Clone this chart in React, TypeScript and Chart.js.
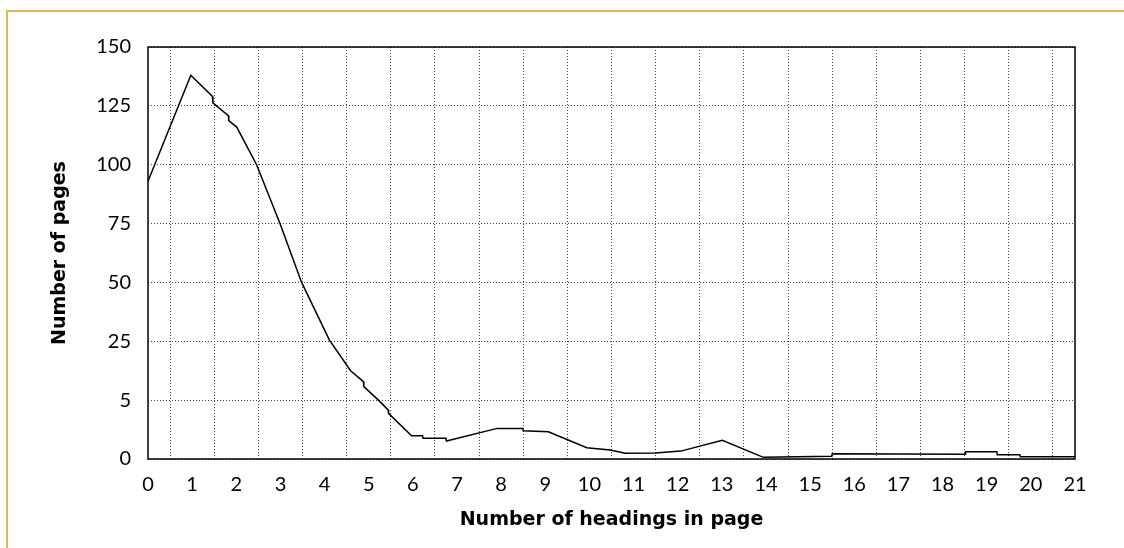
import { useEffect, useRef } from "react";
import { Chart, registerables } from "chart.js";

Chart.register(...registerables);

// Number of headings in page (x) and number of pages (y)
const headings = [
  0, 0.97, 1.46, 1.47, 1.82, 1.83, 2.01, 2.46, 2.99, 3.48, 4.11, 4.59, 4.88, 4.89,
  5.22, 5.44, 5.45, 5.97, 6.22, 6.23, 6.75, 6.76, 7.91, 8.49, 8.5, 9.07, 9.94,
  10.47, 10.81, 11.49, 12.07, 13.01, 13.94, 15.49, 15.5, 18.51, 18.52, 19.23,
  19.24, 19.75, 19.76, 21,
];
const pages = [
  93, 138, 129, 126.3, 120.8, 118.7, 116, 100, 75, 50, 25.5, 15, 11.3, 9.6,
  5, 4.17, 3.88, 1.98, 1.98, 1.76, 1.76, 1.53, 2.6, 2.6, 2.4, 2.32, 0.96,
  0.76, 0.48, 0.5, 0.67, 1.59, 0.14, 0.23, 0.45, 0.4, 0.62, 0.62,
  0.37, 0.37, 0.2, 0.2,
];
const yTickValues = [0, 5, 25, 50, 75, 100, 125, 150];
const xMin = 0;
const xMax = 21;
const xTitle = "Number of headings in page";
const yTitle = "Number of pages";

// piecewise mapping of a value onto the evenly spaced tick bands
function toBand(v: number): number {
  for (let i = 1; i < yTickValues.length; i++) {
    const a = yTickValues[i - 1];
    const b = yTickValues[i];
    if (v <= b) return i - 1 + (v - a) / (b - a);
  }
  return yTickValues.length - 1;
}

const TICK_FONT = { family: "Lato", size: 20 };
const TITLE_FONT = { family: "'DejaVu Sans'", size: 19, weight: "bold" as const };

const framePlugin = {
  id: "frame",
  beforeDraw(chart: any) {
    const ctx = chart.ctx;
    ctx.save();
    ctx.fillStyle = "#e0b85c";
    ctx.fillRect(6, 10, 2, chart.height - 10);
    ctx.fillRect(6, 10, chart.width - 6, 2);
    ctx.restore();
  },
  afterDraw(chart: any) {
    const { left, top, right, bottom } = chart.chartArea;
    const ctx = chart.ctx;
    ctx.save();
    ctx.strokeStyle = "#000";
    ctx.lineWidth = 1.5;
    ctx.strokeRect(left, top, right - left, bottom - top);
    ctx.restore();
  },
};

export default function App() {
  const ref = useRef<HTMLCanvasElement | null>(null);

  useEffect(() => {
    if (!ref.current) return;
    const data = headings.map((x, i) => ({ x, y: toBand(pages[i]) }));
    const chart = new Chart(ref.current, {
      type: "line",
      data: {
        datasets: [
          {
            data,
            borderColor: "#000",
            borderWidth: 1.5,
            pointRadius: 0,
            tension: 0,
            fill: false,
          },
        ],
      },
      options: {
        animation: false,
        responsive: false,
        events: [],
        layout: { padding: { left: 0, top: 47, right: 49, bottom: 0 } },
        plugins: { legend: { display: false }, tooltip: { enabled: false } },
        scales: {
          x: {
            type: "linear",
            min: xMin,
            max: xMax,
            ticks: {
              stepSize: 1,
              autoSkip: false,
              maxRotation: 0,
              padding: 14,
              color: "#000",
              font: TICK_FONT,
            },
            grid: { offset: true, color: "#444", lineWidth: 1, drawTicks: false },
            border: { display: false, dash: [1, 2] },
            title: {
              display: true,
              text: xTitle,
              color: "#000",
              font: TITLE_FONT,
              padding: { top: 0, bottom: 16.6 },
            },
            afterFit: (s: any) => {
              s.height = 89;
            },
          },
          y: {
            type: "linear",
            min: 0,
            max: yTickValues.length - 1,
            ticks: {
              stepSize: 1,
              autoSkip: false,
              padding: 17,
              color: "#000",
              font: TICK_FONT,
              callback: (v: any) => String(yTickValues[Math.round(Number(v))]),
            },
            grid: { color: "#444", lineWidth: 1, drawTicks: false },
            border: { display: false, dash: [1, 2] },
            title: {
              display: true,
              text: yTitle,
              color: "#000",
              font: TITLE_FONT,
              padding: { top: 48.6, bottom: 0 },
            },
            afterFit: (s: any) => {
              s.width = 148;
            },
          },
        },
      },
      plugins: [framePlugin],
    });
    return () => chart.destroy();
  }, []);

  return (
    <div style={{ position: "absolute", left: 0, top: 0, width: 1124, height: 548 }}>
      <canvas ref={ref} width={1124} height={548} />
    </div>
  );
}
